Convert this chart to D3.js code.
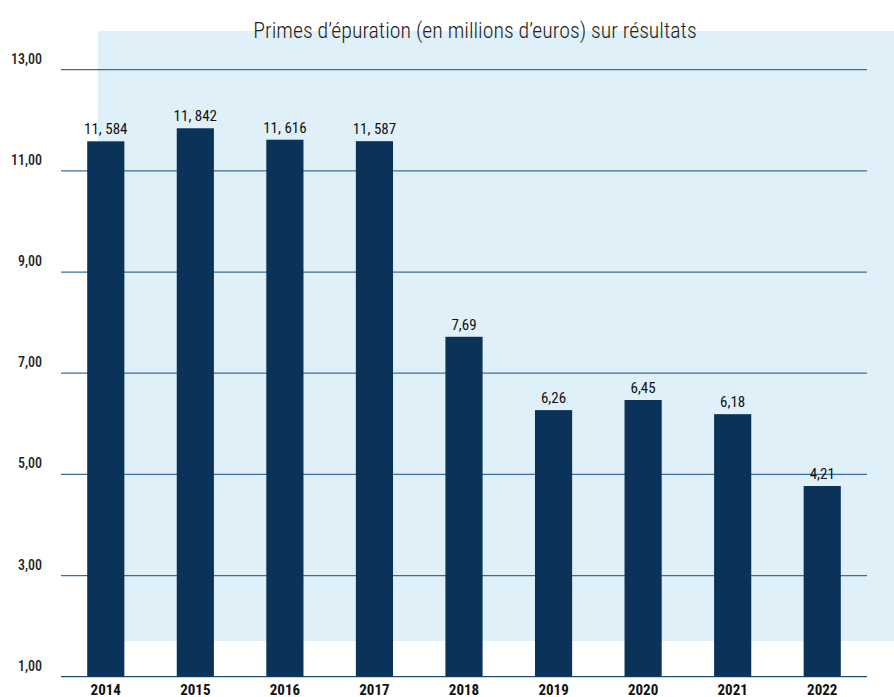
<!DOCTYPE html>
<html>
<head>
<meta charset="utf-8">
<script src="https://cdn.jsdelivr.net/npm/d3@7"></script>
<style>
  body { margin: 0; background: #fff; }
  svg text { font-family: "Roboto Condensed", "Liberation Sans Narrow", "DejaVu Sans Condensed", sans-serif; }
</style>
</head>
<body>
<div id="chart"></div>
<script>
// data
var years = ["2014", "2015", "2016", "2017", "2018", "2019", "2020", "2021", "2022"];
var values = [11.584, 11.842, 11.616, 11.587, 7.72, 6.27, 6.47, 6.19, 4.77];
var valueLabels = ["11, 584", "11, 842", "11, 616", "11, 587", "7,69", "6,26", "6,45", "6,18", "4,21"];
var tickValues = [1, 3, 5, 7, 9, 11, 13];
var title = "Primes d\u2019épuration (en millions d\u2019euros) sur résultats";

var width = 894, height = 697;

var svg = d3.select("#chart").append("svg")
  .attr("width", width)
  .attr("height", height);

var x = d3.scaleBand()
  .domain(years)
  .range([61, 867])
  .paddingInner(0.585)
  .paddingOuter(0.2925);

var y = d3.scaleLinear()
  .domain([1, 13])
  .range([676.7, 69.7]);

// light blue panel behind the plot
svg.append("rect")
  .attr("x", 98).attr("y", 31)
  .attr("width", width - 98).attr("height", 610)
  .attr("fill", "#dff0f8");

// gridlines
svg.selectAll("line.grid")
  .data(tickValues)
  .enter().append("line")
  .attr("class", "grid")
  .attr("x1", 61).attr("x2", 867)
  .attr("y1", d => y(d)).attr("y2", d => y(d))
  .attr("stroke", d => d === 1 ? "#1f4f7c" : "#3b6f9c")
  .attr("stroke-width", 1.3);

// y tick labels
svg.selectAll("text.ytick")
  .data(tickValues)
  .enter().append("text")
  .attr("class", "ytick")
  .attr("x", 42)
  .attr("y", d => y(d) - 6)
  .attr("text-anchor", "end")
  .attr("fill", "#222")
  .style("font-size", "14px")
  .style("font-weight", "500")
  .text(d => d3.format(".2f")(d).replace(".", ","));

// bars
svg.selectAll("rect.bar")
  .data(years)
  .enter().append("rect")
  .attr("class", "bar")
  .attr("x", d => x(d))
  .attr("width", x.bandwidth())
  .attr("y", (d, i) => y(values[i]))
  .attr("height", (d, i) => y(1) - y(values[i]))
  .attr("fill", "#0b3359");

// value labels
svg.selectAll("text.val")
  .data(years)
  .enter().append("text")
  .attr("class", "val")
  .attr("x", d => x(d) + x.bandwidth() / 2)
  .attr("y", (d, i) => y(values[i]) - 7)
  .attr("text-anchor", "middle")
  .attr("fill", "#111")
  .style("font-size", "15px")
  .style("font-weight", "400")
  .text((d, i) => valueLabels[i]);

// year labels
svg.selectAll("text.year")
  .data(years)
  .enter().append("text")
  .attr("class", "year")
  .attr("x", d => x(d) + x.bandwidth() / 2)
  .attr("y", 695)
  .attr("text-anchor", "middle")
  .attr("fill", "#111")
  .style("font-size", "15px")
  .style("font-weight", "bold")
  .text(d => d);

// title
svg.append("text")
  .attr("x", 475)
  .attr("y", 38)
  .attr("text-anchor", "middle")
  .attr("fill", "#222")
  .style("font-size", "21.8px")
  .style("font-weight", "300")
  .text(title);
</script>
</body>
</html>
